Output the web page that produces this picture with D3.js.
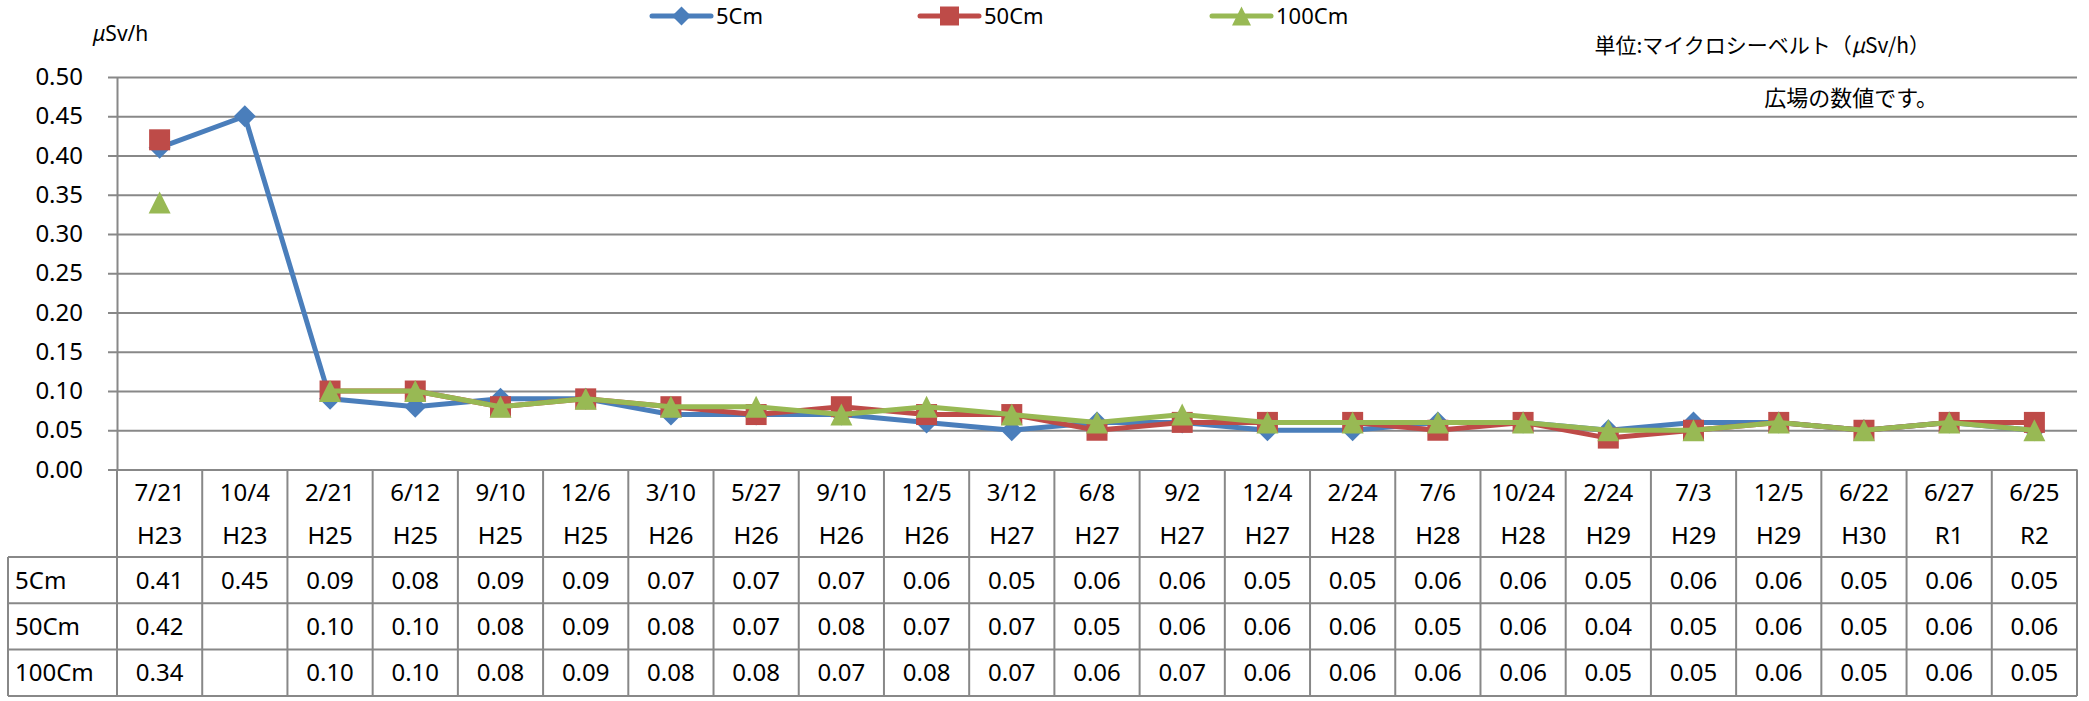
<!DOCTYPE html>
<html>
  <head>
    <meta charset="utf-8">
    <title>広場の空間線量</title>
    <script type="text/javascript" src="https://d3js.org/d3.v7.min.js"></script>
    <style>
      body { margin: 0; background: #fff; }
      text { font-family: "Noto Sans", "Noto Sans CJK JP", sans-serif; fill: #000; }
    </style>
  </head>

  <body>
    <script>

    var dates  = ["7/21","10/4","2/21","6/12","9/10","12/6","3/10","5/27","9/10","12/5","3/12","6/8",
                  "9/2","12/4","2/24","7/6","10/24","2/24","7/3","12/5","6/22","6/27","6/25"];
    var eras   = ["H23","H23","H25","H25","H25","H25","H26","H26","H26","H26","H27","H27",
                  "H27","H27","H28","H28","H28","H29","H29","H29","H30","R1","R2"];
    var seriesNames = ["5Cm", "50Cm", "100Cm"];
    var cm5   = [0.41,0.45,0.09,0.08,0.09,0.09,0.07,0.07,0.07,0.06,0.05,0.06,0.06,0.05,0.05,0.06,0.06,0.05,0.06,0.06,0.05,0.06,0.05];
    var cm50  = [0.42,null,0.10,0.10,0.08,0.09,0.08,0.07,0.08,0.07,0.07,0.05,0.06,0.06,0.06,0.05,0.06,0.04,0.05,0.06,0.05,0.06,0.06];
    var cm100 = [0.34,null,0.10,0.10,0.08,0.09,0.08,0.08,0.07,0.08,0.07,0.06,0.07,0.06,0.06,0.06,0.06,0.05,0.05,0.06,0.05,0.06,0.05];
    var yTicks = [0,0.05,0.10,0.15,0.20,0.25,0.30,0.35,0.40,0.45,0.50];

    var width = 2089, height = 701;
    var plotLeft = 117, plotRight = 2077, plotTop = 77, plotBottom = 469.5;   // plot area
    var rowH = 46.3, headBottom = 557, tableLeft = 8;
    var gridColor = "#888888";

    var series = [
      { name: seriesNames[0], values: cm5,   color: "#4a7ebb", shape: "diamond" },
      { name: seriesNames[1], values: cm50,  color: "#be4b48", shape: "square" },
      { name: seriesNames[2], values: cm100, color: "#98b954", shape: "triangle" }
    ];

    var x = d3.scaleBand().domain(d3.range(dates.length)).range([plotLeft, plotRight]);
    var y = d3.scaleLinear().domain([0, 0.5]).range([plotBottom, plotTop]);
    var cx = function(i) { return x(i) + x.bandwidth() / 2; };

    var svg = d3.select("body").append("svg")
                .attr("width", width)
                .attr("height", height);

    // gridlines + outward ticks
    var grid = svg.append("g")
       .attr("transform", "translate(" + (plotLeft - 9) + ",0)")
       .call(d3.axisLeft(y).tickValues(yTicks).tickSize(-(plotRight - plotLeft + 9)).tickFormat(""));
    grid.select(".domain").remove();
    grid.selectAll("line").attr("stroke", gridColor).attr("stroke-width", 2);

    // y labels
    var yAxis = svg.append("g")
       .attr("transform", "translate(" + plotLeft + ",0)")
       .call(d3.axisLeft(y).tickValues(yTicks).tickSize(0).tickPadding(34).tickFormat(d3.format(".2f")));
    yAxis.select(".domain").attr("stroke", gridColor).attr("stroke-width", 2);
    yAxis.selectAll("text").style("font-size", "24px").style("font-family", "Noto Sans");

    var unit = svg.append("text").attr("x", 93).attr("y", 41).style("font-size", "21px");
    unit.append("tspan").style("font-style", "italic").text("μ");
    unit.append("tspan").text("Sv/h");

    // symbols
    function symbolPath(shape, s) {
      var h = s / 2;
      if (shape === "square") return d3.symbol(d3.symbolSquare, s * s)();
      if (shape === "triangle") return "M0," + (-h) + "L" + h + "," + h + "L" + (-h) + "," + h + "Z";
      return "M0," + (-h) + "L" + h + ",0L0," + h + "L" + (-h) + ",0Z";
    }

    var line = d3.line()
                 .defined(function(d) { return d != null; })
                 .x(function(d, i) { return cx(i); })
                 .y(function(d) { return y(d); });

    series.forEach(function(s) {
      svg.append("path")
         .attr("d", line(s.values))
         .attr("fill", "none")
         .attr("stroke", s.color)
         .attr("stroke-width", 5)
         .attr("stroke-linejoin", "round");
      svg.append("g").selectAll("path")
         .data(s.values.map(function(v, i) { return { v: v, i: i }; }).filter(function(d) { return d.v != null; }))
         .enter().append("path")
           .attr("d", symbolPath(s.shape, s.shape === "square" ? 21 : 22))
           .attr("transform", function(d) { return "translate(" + cx(d.i) + "," + y(d.v) + ")"; })
           .attr("fill", s.color);
    });

    // legend
    var legendX = [652, 920, 1212];
    series.forEach(function(s, i) {
      var g = svg.append("g").attr("transform", "translate(" + legendX[i] + ",16)");
      g.append("line").attr("x1", 0).attr("x2", 59).attr("stroke", s.color)
       .attr("stroke-width", 5).attr("stroke-linecap", "round");
      g.append("path").attr("d", symbolPath(s.shape, 19))
       .attr("transform", "translate(29.5,0)").attr("fill", s.color);
      g.append("text").attr("x", 64).attr("y", 8).style("font-size", "22px").text(s.name);
    });

    var note = svg.append("text").attr("x", 1930).attr("y", 53).attr("text-anchor", "end")
       .style("font-size", "21px").style("font-family", "Noto Sans CJK JP");
    note.append("tspan").text("単位:マイクロシーベルト（");
    note.append("tspan").style("font-style", "italic").text("μ");
    note.append("tspan").text("Sv/h）");
    svg.append("text").attr("x", 1938).attr("y", 106).attr("text-anchor", "end")
       .style("font-size", "22px").style("font-family", "Noto Sans CJK JP")
       .text("広場の数値です。");

    // data table
    var tableBottom = headBottom + rowH * 3;
    var tbl = svg.append("g").attr("stroke", gridColor).attr("stroke-width", 2);
    d3.range(dates.length + 1).forEach(function(i) {
      var xx = i < dates.length ? x(i) : plotRight;
      tbl.append("line").attr("x1", xx).attr("x2", xx).attr("y1", plotBottom).attr("y2", tableBottom);
    });
    tbl.append("line").attr("x1", tableLeft).attr("x2", tableLeft).attr("y1", headBottom).attr("y2", tableBottom);
    d3.range(4).forEach(function(r) {
      var yy = headBottom + r * rowH;
      tbl.append("line").attr("x1", tableLeft).attr("x2", plotRight).attr("y1", yy).attr("y2", yy);
    });

    svg.append("g").selectAll("text").data(dates).enter().append("text")
       .attr("x", function(d, i) { return cx(i); }).attr("y", 501)
       .attr("text-anchor", "middle").style("font-size", "24px").text(function(d) { return d; });
    svg.append("g").selectAll("text").data(eras).enter().append("text")
       .attr("x", function(d, i) { return cx(i); }).attr("y", 544)
       .attr("text-anchor", "middle").style("font-size", "24px").text(function(d) { return d; });

    series.forEach(function(s, r) {
      var yy = headBottom + r * rowH + rowH / 2 + 8.5;
      svg.append("text").attr("x", 15).attr("y", yy).style("font-size", "24px").text(s.name);
      svg.append("g").selectAll("text")
         .data(s.values.map(function(v, i) { return { v: v, i: i }; }).filter(function(d) { return d.v != null; }))
         .enter().append("text")
           .attr("x", function(d) { return cx(d.i); }).attr("y", yy)
           .attr("text-anchor", "middle").style("font-size", "24px")
           .text(function(d) { return d3.format(".2f")(d.v); });
    });

  </script>
  </body>
</html>
